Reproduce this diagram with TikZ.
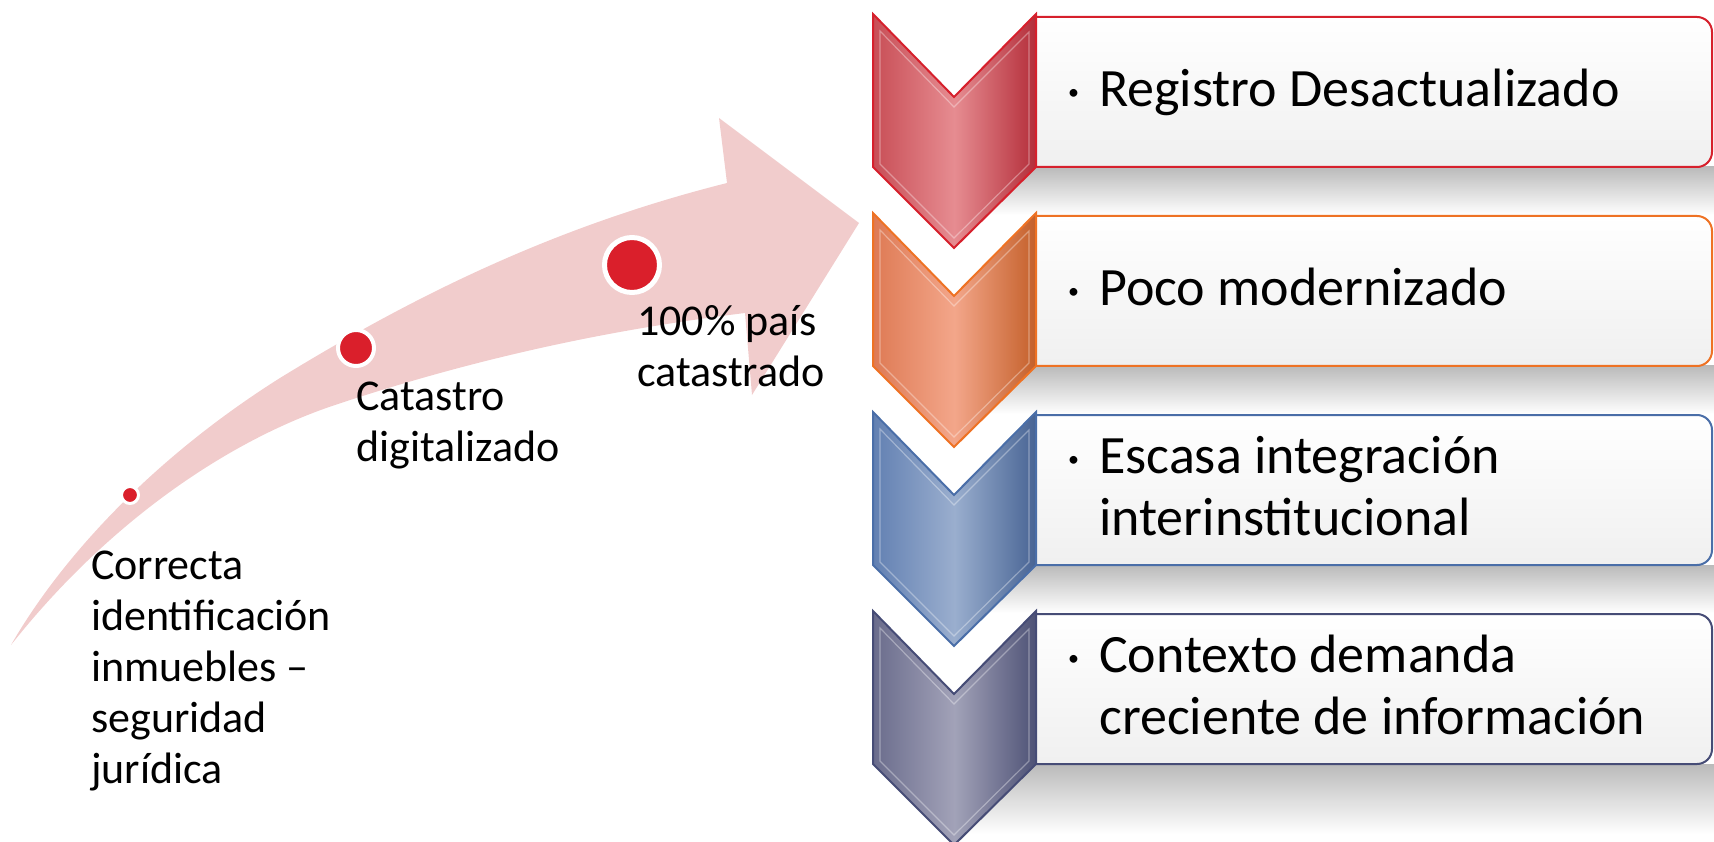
\documentclass[tikz,border=0pt]{standalone}
\usepackage{fontspec}
\setmainfont{Carlito}
\definecolor{arrowpink}{RGB}{241,204,204}
\definecolor{dotred}{RGB}{218,31,43}
\definecolor{redline}{RGB}{214,32,44}
\definecolor{redleft}{RGB}{200,78,86}
\definecolor{redmid}{RGB}{230,140,145}
\definecolor{redright}{RGB}{180,46,58}
\definecolor{orangeline}{RGB}{238,114,36}
\definecolor{orangeleft}{RGB}{222,122,84}
\definecolor{orangemid}{RGB}{243,166,138}
\definecolor{orangeright}{RGB}{196,96,42}
\definecolor{blueline}{RGB}{74,110,168}
\definecolor{blueleft}{RGB}{98,128,178}
\definecolor{bluemid}{RGB}{154,174,206}
\definecolor{blueright}{RGB}{72,100,148}
\definecolor{slateline}{RGB}{70,76,118}
\definecolor{slateleft}{RGB}{106,108,140}
\definecolor{slatemid}{RGB}{162,162,184}
\definecolor{slateright}{RGB}{78,82,118}
\tikzset{
  chevron/.style={line width=2pt, line join=miter},
  bevel/.style={draw=white, draw opacity=0.35, line width=1.2pt},
  panel/.style={line width=2pt, rounded corners=15pt, top color=white, bottom color=black!6},
  lowshadow/.style={top color=black!27, bottom color=white},
  dot/.style={circle, fill=dotred, draw=white, inner sep=0pt},
  milestone/.style={anchor=base west, inner sep=0pt, font=\fontsize{44}{51}\selectfont},
  issue/.style={anchor=base west, inner sep=0pt, font=\fontsize{54}{62}\selectfont},
}
\newcommand{\issuebullet}{\makebox[31pt][l]{\raisebox{7pt}{\fontsize{22}{22}\selectfont •}}}
\begin{document}
\begin{tikzpicture}[x=1pt, y=-1pt]
  \useasboundingbox (0,0) rectangle (1714,842);
  % curved arrow with milestones
  \fill[arrowpink] (11,645) .. controls (60,560) and (150,460) .. (280,378)
    .. controls (420,292) and (560,225) .. (727,183) -- (719,118) -- (859,223)
    -- (752,395) -- (745,313) .. controls (640,326) and (500,350) .. (335,405)
    .. controls (230,440) and (110,520) .. (11,645) -- cycle;
  \node[dot, minimum size=17pt, line width=3pt] (dotone) at (130,495) {};
  \node[dot, minimum size=36pt, line width=4pt] (dottwo) at (356,348) {};
  \node[dot, minimum size=55pt, line width=5pt] (dotthree) at (632,265) {};
  \node[milestone] (correcta) at (91,579) {\parbox[t]{320pt}{Correcta\\identificación\\inmuebles –\\seguridad\\jurídica}};
  \node[milestone] (catastro) at (356,410) {\parbox[t]{320pt}{Catastro\\digitalizado}};
  \node[milestone] (pais) at (637,336) {\parbox[t]{320pt}{100\% país\\catastrado}};

  % shadows under the panels
  \shade[lowshadow] (960,167) rectangle (1714,215);
  \shade[lowshadow] (960,366) rectangle (1714,414);
  \shade[lowshadow] (960,565) rectangle (1714,613);
  \shade[lowshadow] (960,764) rectangle (1714,834);

  % panels, left end hidden under the chevrons
  \begin{scope}
    \clip (1036,0) rectangle (1714,842);
    \shadedraw[panel, draw=redline] (1000,17) rectangle (1712,167);
    \shadedraw[panel, draw=orangeline] (1000,216) rectangle (1712,366);
    \shadedraw[panel, draw=blueline] (1000,415) rectangle (1712,565);
    \shadedraw[panel, draw=slateline] (1000,614) rectangle (1712,764);
  \end{scope}

  % chevrons
  \shadedraw[chevron, left color=redleft, right color=redright, middle color=redmid, draw=redline]
    (873,14) -- (954,97) -- (1036,14) -- (1036,167) -- (954,248) -- (873,167) -- cycle;
  \draw[bevel] (880,31) -- (954,107) -- (1029,32) -- (1029,164) -- (954,238) -- (880,164) -- cycle;
  \shadedraw[chevron, left color=orangeleft, right color=orangeright, middle color=orangemid, draw=orangeline]
    (873,213) -- (954,296) -- (1036,213) -- (1036,366) -- (954,447) -- (873,366) -- cycle;
  \draw[bevel] (880,230) -- (954,306) -- (1029,231) -- (1029,363) -- (954,437) -- (880,363) -- cycle;
  \shadedraw[chevron, left color=blueleft, right color=blueright, middle color=bluemid, draw=blueline]
    (873,412) -- (954,495) -- (1036,412) -- (1036,565) -- (954,646) -- (873,565) -- cycle;
  \draw[bevel] (880,429) -- (954,505) -- (1029,430) -- (1029,562) -- (954,636) -- (880,562) -- cycle;
  \shadedraw[chevron, left color=slateleft, right color=slateright, middle color=slatemid, draw=slateline]
    (873,611) -- (954,694) -- (1036,611) -- (1036,764) -- (954,845) -- (873,764) -- cycle;
  \draw[bevel] (880,628) -- (954,704) -- (1029,629) -- (1029,761) -- (954,835) -- (880,761) -- cycle;

  % panel texts
  \node[issue] (registro) at (1068,107) {\parbox[t]{640pt}{\issuebullet Registro Desactualizado}};
  \node[issue] (poco) at (1068,306) {\parbox[t]{640pt}{\issuebullet Poco modernizado}};
  \node[issue] (escasa) at (1068,473) {\parbox[t]{640pt}{\issuebullet Escasa integración\\\hspace*{31pt}interinstitucional}};
  \node[issue] (contexto) at (1068,672) {\parbox[t]{640pt}{\issuebullet Contexto demanda\\\hspace*{31pt}creciente de información}};
\end{tikzpicture}
\end{document}
